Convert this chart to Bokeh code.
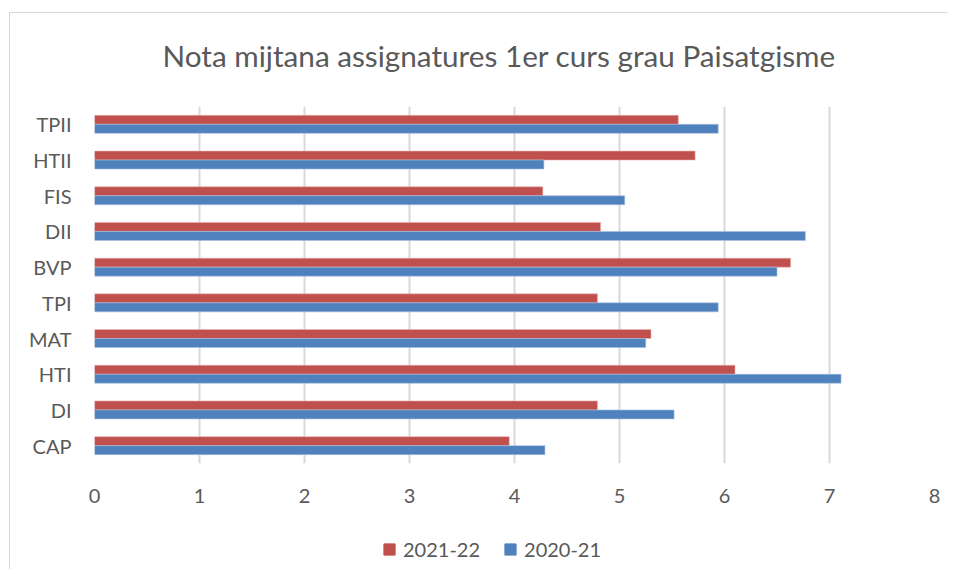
from bokeh.plotting import figure
from bokeh.layouts import column
from bokeh.models import ColumnDataSource, Range1d, FixedTicker, Legend, LegendItem, Title
from bokeh.transform import dodge
from bokeh.embed import file_html
from bokeh.resources import INLINE

categories = ["CAP", "DI", "HTI", "MAT", "TPI", "BVP", "DII", "FIS", "HTII", "TPII"]
nota_2021_22 = [3.95, 4.79, 6.10, 5.30, 4.79, 6.63, 4.82, 4.27, 5.72, 5.56]
nota_2020_21 = [4.29, 5.52, 7.11, 5.25, 5.94, 6.50, 6.77, 5.05, 4.28, 5.94]
series_names = ["2021-22", "2020-21"]
x_ticks = [0, 1, 2, 3, 4, 5, 6, 7, 8]
title_text = "Nota mijtana assignatures 1er curs grau Paisatgisme"

RED = "#C0504D"
BLUE = "#4F81BD"
TXT = "#595959"
FONT = "Lato"

src = ColumnDataSource(dict(cat=categories, a=nota_2021_22, b=nota_2020_21))

p = figure(
    frame_width=840, frame_height=357,
    y_range=categories, x_range=Range1d(0, 8),
    output_backend="svg", toolbar_location=None,
    min_border_left=84, min_border_right=14, min_border_top=93, min_border_bottom=50,
)

r1 = p.hbar(y=dodge("cat", 0.126, range=p.y_range), left=0, right="a", height=0.252,
            source=src, fill_color=RED, line_color="#e8b0ae", line_width=0.6)
r2 = p.hbar(y=dodge("cat", -0.126, range=p.y_range), left=0, right="b", height=0.252,
            source=src, fill_color=BLUE, line_color="#a8c0e0", line_width=0.6)

# spacer (closest to frame) then the real title
p.add_layout(Title(text=" ", text_font_size="29px", standoff=0), "above")
p.add_layout(Title(text=title_text, text_font=FONT, text_font_size="29.7px",
                   text_font_style="normal", text_color=TXT, align="left",
                   offset=68, standoff=0), "above")

p.outline_line_color = None
p.background_fill_color = "white"
p.border_fill_color = "white"

p.xaxis.ticker = FixedTicker(ticks=x_ticks)
p.xaxis.axis_line_color = None
p.xaxis.major_tick_line_color = None
p.xaxis.minor_tick_line_color = None
p.xaxis.major_label_text_font = FONT
p.xaxis.major_label_text_font_size = "20px"
p.xaxis.major_label_text_color = TXT
p.xaxis.major_label_standoff = 19

p.yaxis.axis_line_color = None
p.yaxis.major_tick_line_color = None
p.yaxis.minor_tick_line_color = None
p.yaxis.major_label_text_font = FONT
p.yaxis.major_label_text_font_size = "20px"
p.yaxis.major_label_text_color = TXT
p.yaxis.major_label_standoff = 17

p.xgrid.grid_line_color = "#d9d9d9"
p.xgrid.grid_line_width = 2
p.ygrid.grid_line_color = None

# legend strip below the chart
p2 = figure(
    frame_width=840, frame_height=56,
    x_range=Range1d(0, 1), y_range=Range1d(0, 1),
    x_axis_type=None, y_axis_type=None,
    output_backend="svg", toolbar_location=None,
    min_border_left=84, min_border_right=14, min_border_top=0, min_border_bottom=0,
)
p2.outline_line_color = None
p2.xgrid.grid_line_color = None
p2.ygrid.grid_line_color = None
p2.border_fill_color = "white"
# legend-only renderers, placed outside the visible range
lr1 = p2.hbar(y=[-5], left=[-6], right=[-5.5], height=0.1, fill_color=RED, line_color=RED)
lr2 = p2.hbar(y=[-5], left=[-6], right=[-5.5], height=0.1, fill_color=BLUE, line_color=BLUE)

legend = Legend(items=[LegendItem(label=series_names[0], renderers=[lr1], index=0),
                       LegendItem(label=series_names[1], renderers=[lr2], index=0)],
                orientation="horizontal", location=(288, 8))
legend.label_text_font = FONT
legend.label_text_font_size = "20px"
legend.label_text_color = TXT
legend.glyph_width = 14
legend.glyph_height = 14
legend.label_standoff = 7
legend.spacing = 23
legend.border_line_color = None
legend.background_fill_alpha = 0
legend.margin = 0
legend.padding = 0
p2.add_layout(legend, "center")

layout = column(p, p2, spacing=0, margin=(12, 0, 0, 9),
                styles={"border-top": "1px solid #d9d9d9", "border-left": "1px solid #d9d9d9"})

open("out.html", "w").write(file_html(layout, INLINE))
